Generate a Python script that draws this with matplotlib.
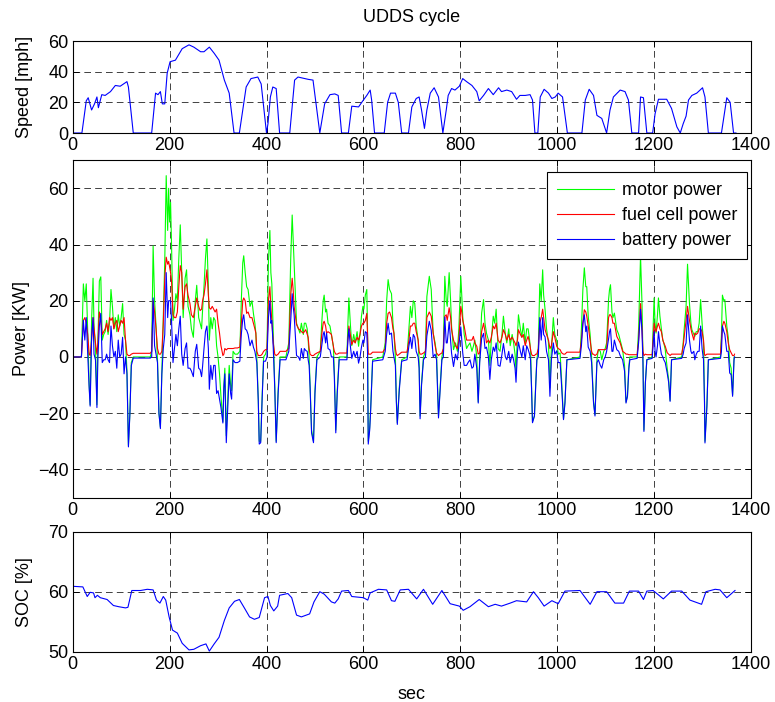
import numpy as np
import matplotlib
matplotlib.use("Agg")
import matplotlib.pyplot as plt

plt.rcParams['font.family'] = ['Liberation Sans', 'DejaVu Sans']
plt.rcParams['font.size'] = 13

# ---- speed trace (mph) ----
t_spd = [0, 19, 28, 32, 39, 45, 50, 53, 60, 67, 78, 88, 98, 105, 112, 115, 125,
         163, 171, 176, 181, 185, 190, 195, 201, 212, 226, 240, 250, 264, 271, 282,
         292, 302, 313, 323, 333, 344, 358, 368, 382, 389, 400, 403, 408, 413, 420,
         427, 448, 458, 465, 486, 496, 510, 520, 531, 541, 548, 555, 569, 576, 590,
         600, 607, 614, 617, 623, 643, 650, 656, 666, 672, 679, 693, 700, 709, 715,
         720, 726, 731, 738, 746, 755, 764, 771, 775, 782, 789, 798, 805, 813, 824,
         834, 839, 848, 858, 868, 879, 885, 896, 906, 916, 923, 934, 944, 949, 954,
         960, 965, 973, 982, 989, 996, 1002, 1011, 1021, 1051, 1058, 1066, 1075,
         1082, 1092, 1102, 1109, 1116, 1130, 1140, 1147, 1154, 1168, 1172, 1178,
         1185, 1197, 1202, 1209, 1226, 1236, 1247, 1254, 1260, 1266, 1271, 1278,
         1288, 1300, 1305, 1312, 1339, 1350, 1357, 1364, 1369]
speed = [0, 0, 21, 23, 15, 19, 23.5, 16.5, 25, 24.5, 27, 31, 30.5, 32, 33.5, 30, 0,
         0, 26, 25, 27, 19, 19, 39, 46.5, 47.5, 55, 57.5, 56, 53, 53, 56,
         52, 47.5, 34.5, 26, 0, 0, 30, 35.5, 36.5, 32, 0, 6, 23.5, 30, 29,
         0, 0, 34.5, 36.5, 35, 34.5, 0, 19, 25, 25.5, 24.5, 0, 0, 17.5, 17,
         21.5, 24.5, 28, 21.5, 0, 0, 20, 26, 26, 20, 0, 0, 17, 22.5, 23.5,
         15, 3, 15, 26, 29.5, 23.5, 0, 15, 24.5, 29, 28, 30.5, 35.5, 33.5, 31,
         27, 21, 24.5, 29, 25, 29.5, 27, 28, 27, 22, 24.5, 24.5, 25, 21.5, 0,
         0, 23.5, 28.5, 26, 22.5, 23.5, 26, 23.5, 0, 0, 21.5, 28.5, 24.5,
         11.5, 9.5, 0, 15, 23.5, 28, 27, 21.5, 0, 0, 23.5, 23,
         0, 0, 12.5, 22, 22, 16, 4, 0, 6, 11, 21.5, 24.5,
         26, 29.5, 23.5, 0, 0, 23, 20, 0, 0]

# ---- power (kW) ----
t_pwr = [0, 18, 22, 25, 28, 31, 34, 36, 39, 42,
         44, 47, 50, 52, 55, 58, 61, 64, 67, 70,
         73, 76, 79, 82, 85, 88, 91, 94, 97, 100,
         103, 106, 109, 112, 115, 118, 121, 125, 160, 163,
         166, 169, 172, 175, 178, 181, 184, 187, 190, 193,
         196, 198, 200, 202, 204, 207, 210, 213, 216, 219,
         222, 225, 228, 232, 235, 238, 242, 245, 249, 253,
         256, 260, 263, 266, 268, 271, 274, 277, 280, 282,
         285, 288, 291, 294, 297, 300, 303, 306, 310, 312,
         314, 317, 320, 323, 326, 328, 331, 335, 340, 345,
         348, 351, 353, 356, 359, 362, 366, 370, 373, 376,
         378, 380, 383, 385, 388, 391, 394, 398, 401, 404,
         407, 409, 411, 414, 417, 420, 424, 428, 440, 446,
         450, 453, 455, 457, 460, 462, 466, 469, 472, 476,
         478, 481, 484, 486, 488, 490, 493, 497, 500, 504,
         511, 514, 517, 519, 522, 524, 527, 531, 534, 538,
         540, 543, 546, 550, 566, 568, 570, 573, 576, 580,
         583, 587, 590, 593, 596, 599, 601, 604, 607, 608.5,
         610, 613, 615, 619, 640, 645, 648, 651, 654, 658,
         661, 663, 666, 668, 670, 674, 679, 690, 694, 697,
         700, 703, 706, 709, 713, 715, 717, 720, 724, 728,
         731, 736, 740, 744, 748, 751, 753, 755, 758, 762,
         765, 768, 771, 773, 777, 780, 782, 786, 790, 794,
         797, 801, 803, 805, 808, 811, 813, 816, 820, 824,
         827, 830, 834, 837, 840, 844, 848, 851, 854, 858,
         861, 864, 868, 871, 874, 878, 882, 886, 889, 893,
         896, 900, 903, 907, 910, 913, 915, 918, 920, 924,
         927, 930, 934, 937, 940, 943, 945, 947, 949, 953,
         956, 958, 961, 964, 967, 970, 972, 975, 978, 982,
         985, 988, 992, 995, 999, 1002, 1006, 1009, 1013, 1016,
         1020, 1047, 1050, 1053, 1056, 1059, 1061, 1064, 1068, 1071,
         1073, 1075, 1078, 1082, 1085, 1089, 1092, 1096, 1099, 1102,
         1106, 1108, 1110, 1113, 1115, 1118, 1123, 1127, 1130, 1135,
         1139, 1142, 1145, 1148, 1150, 1165, 1168, 1172, 1175, 1177,
         1179, 1182, 1185, 1196, 1200, 1202, 1204, 1207, 1209, 1212,
         1215, 1218, 1220, 1223, 1227, 1230, 1233, 1236, 1257, 1260,
         1262, 1266, 1269, 1273, 1276, 1278, 1282, 1284, 1287, 1290,
         1293, 1296, 1299, 1302, 1304, 1305, 1309, 1312, 1337, 1339,
         1341, 1344, 1346, 1350, 1353, 1356, 1359, 1362, 1365, 1366]
p_motor = [0, 0, 26, 20, 26, 9, -10, -17, 13, 28,
           11, 4, -17, 5, 27, 28.5, 6, 8, 9, 13,
           8, 12, 24, 18, 10, 14, 9, 15, 11, 14,
           19, 8, 6, -5, -31.5, -20, -2, 0, 0, 2,
           39.5, 20, 11, -1, -20, -25, -5, 15, 34, 64.5,
           45, 60, 48, 55, 40, 13, 17, 22.5, 20, 35,
           47, 31, 14, 28, 31, 18, 15, 10, 7, 20,
           25.5, 14, 12, 10, 16.5, 25, 35, 42, 25, 6,
           14, 10, 14, 13, 4, 0, -6, -14, -23, -10,
           -4, -28, -15, -3, -10, -12, 2, 1, 1, 2,
           20, 33.5, 36, 30, 25, 24, 18, 20, 15.5, 12,
           8.5, 0, -15, -30, -30, -14, 0, 1, 3, 34,
           45, 30, 26, 8, -10, -30, -12, 0, 0, 5,
           35, 50.5, 42, 33, 20, 12, 10, 8.5, 12, 8,
           12, 12, 10, 6, 0, -10, -26, -30, -12, 0,
           2, 12, 20, 22, 16, 17, 12, 11, 8, 3.8,
           -5, -26, -12, 0, 0, 12, 21, 12, 4, 8,
           5, 9, 3.8, 8, 14.5, 18, 17, 22, 24, 10,
           -30, -25, -18, -1, 0, 5, 20, 27.5, 24, 22.5,
           12, 8.5, 0, -15, -23.5, -11, -1, 0, 10, 18,
           14, 20, 19, 11, 6, -2, -21, -9.3, 0, 2,
           21.5, 28.7, 24, 8.5, 5, 1, -10, -21, -12, 0,
           3, 28.7, 20, 18, 30, 20, 11, 2.6, 5, 2,
           10, 28.7, 22, 14.5, 8, 5, 3, 4, 5, 2,
           3.8, 6, 0, -16, -1, 15.6, 20.4, 12, 8.5, 6,
           -3, 6, 14.5, 12, 17, 3, 2, 8, 14.5, 8,
           5, 10, 4, 8, 5, 1, -5, 8, 15, 10,
           7, 12, 5, 10, 10, 6, 2.6, -10, -23, -21,
           -8, -1, 3, 26, 20, 31, 22, 16.8, 10, 5,
           -11, 3, 14, 8, 6, 1, 1.4, -8, -22, -16,
           -1, 0, 10, 24, 31.7, 25, 25, 14.5, 8, 0,
           -8, -16, -20.5, -1, 2.6, 2, -1, 2, 3, 5,
           20.4, 24, 25.7, 16, 14, 15.6, 9.7, 8, 6, 2.6,
           -3, -16, -14, -3, 0, 0, 10, 36, 19, 0,
           -26, -9, -1, 0, 21, 12, 8.5, 15, 21, 14.5,
           10, 6, 5, 2.6, -4, -8, -15.5, -1, 0, 5,
           9.7, 18, 33, 19, 12, 9.7, 8, 7.3, 9, 9,
           12, 20.4, 12, 5, -15, -30, -17, -1, 0, 8,
           22, 20, 20.4, 11, 7, -2, -4, -13.5, 0, 0]
p_fuel = [0, 0, 13, 14, 12, 8, 1, 0.5, 6, 14,
          10, 5, 1, 5, 16, 13, 8, 9, 10, 12,
          9, 14, 13, 14, 10, 12, 13, 9, 11, 13,
          12, 14, 6, 1, 0.5, 0.5, 1, 1.3, 1.3, 2,
          20, 16, 10, 3, 1, 1, 2, 12, 28, 35.5,
          33, 34, 32, 30, 27, 15, 14, 14, 16, 25,
          32.5, 30, 17, 25, 26, 22, 19, 15, 14, 18,
          21, 18, 16.5, 17, 20, 22, 26, 31, 22, 17.5,
          17, 18, 17, 16, 17, 12, 8.5, 4, 0.5, 1,
          3, 2.5, 3, 3, 3, 3, 3, 3.2, 3.2, 3.5,
          12, 20, 21, 20, 15.5, 16, 14, 14, 12, 10,
          8.5, 2, 0.5, 0.5, 0.5, 1, 2, 2.6, 2.6, 20,
          25, 18, 13, 5, 1, 0.5, 1, 2, 2, 3,
          22, 28, 24, 18, 14, 11.5, 10, 9.7, 9, 8.5,
          9, 9.7, 8, 7, 3, 1, 0.5, 0.5, 1, 1.4,
          2, 8, 12, 12.7, 11, 8.5, 9, 8.5, 8, 3.8,
          2, 1, 1, 1.4, 1.4, 6, 11, 8, 4.4, 6,
          5, 7, 6, 8, 11, 12, 12, 13, 15.5, 8,
          1, 1, 1, 1.7, 1.7, 3, 12, 15.5, 16, 14,
          10, 8.5, 3, 1, 0.5, 1, 1.7, 1.7, 6, 11,
          11, 12, 12, 9, 6, 2, 1, 1, 1.4, 2,
          14, 16, 14.5, 8.5, 4, 1.4, 1, 0.5, 1, 1.4,
          3, 14.5, 15, 13, 17.5, 14, 9.7, 6, 4, 3,
          6, 18, 16, 13, 11, 8, 6, 6, 6, 6,
          7.3, 5, 3.8, 1, 1.5, 9, 12, 9, 5, 6,
          5, 7, 11, 10, 12, 6, 5, 7, 9.7, 8,
          6, 8, 6, 7, 6, 5, 4, 6, 9.7, 8,
          7, 8, 4, 6, 7.3, 5, 2.6, 1, 0.5, 0.5,
          1, 1, 3, 12, 14, 17, 14, 9.7, 8, 6,
          3, 4, 9, 7, 3.8, 3, 2.6, 1.5, 1, 1,
          1.7, 1.7, 6, 12, 16.8, 16, 14.5, 11, 6, 2,
          1, 1, 0.5, 1, 2.6, 2.6, 2.6, 2.6, 2.6, 3,
          14, 15, 15, 14, 12, 12, 7.3, 6, 5, 2,
          1.5, 1, 1, 0.8, 0.8, 0.8, 6, 19, 10, 2,
          0.5, 1, 0.8, 0.8, 12, 10, 9, 11, 12, 10,
          9, 6, 5, 3.8, 1.5, 1, 0.5, 1, 1, 4,
          7, 13, 18, 13, 10, 8.5, 6, 8.5, 8, 8.5,
          10, 10, 9, 6, 1, 0.5, 1, 1, 1, 6,
          11, 12.7, 12, 9, 5, 2.6, 1.5, 0.5, 0.5, 1]
p_batt = [0, 0, 13, 6, 14, 1, -11, -17.5, 7, 14,
          1, -1, -18, 0, 11, 15.5, -2, -1, -1, 1,
          -1, -2, 11, 4, 0, 2, -4, 6, 0, 1,
          7, -6, 0, -6, -32, -20.5, -3, -0.4, -0.4, 0,
          21, 4, 1, -2, -20, -25.5, -6, 3, 8, 30,
          14, 20, 20, 20, 13, -2, 3, 8, 4, 10,
          14.5, 1, -3, 3, 5, -4, -4, -5, -7, 2,
          4.5, -4, -4.5, -7, -3.5, 3, 9, 11, 3, -11.5,
          -3, -8, -3, -3, -13, -12, -15, -18, -23.5, -11,
          -6, -30.5, -18, -6, -13, -15, -1, -2, -2, -1.5,
          8, 13.5, 15, 10, 9.5, 8, 4, 6, 3.5, 2,
          0, -2, -15.5, -31, -30.5, -15, -1.5, -1.5, 0, 14,
          20, 12, 13, 3, -11, -30.5, -13, -1, -1, 2,
          13, 22.5, 18, 15, 6, 0.5, 0, -1.2, 3, -0.5,
          3, 2.3, 2, -1, -3, -11, -27, -30.5, -13, -1,
          0, 4, 8, 9, 5, 8.5, 3, 2.5, 0, 0,
          -7, -27, -13, -1, -1, 6, 10, 4, -0.5, 2,
          0, 2, -2.2, 0, 3.5, 6, 5, 9, 8.5, 2,
          -31, -26, -19, -1.5, -1, 2, 8, 12, 8, 8.5,
          2, 0, -3, -16, -24, -12, -1.5, -1, 4, 7,
          3, 8, 7, 2, 0, -4, -22, -10, -1, 0,
          7.5, 12.7, 9.5, 0, 1, -1, -11, -21.7, -13, -1,
          0, 14.2, 5, 5, 12.5, 6, 1.3, -3.4, 1, -1,
          4, 10.7, 6, 1.5, -3, -3, -3, -2, -1, -4,
          -3.5, 1, -4, -16.4, -2, 6.6, 8.4, 3, 3.5, 0,
          -8, -1, 3.5, 2, 5, -3, -3.3, 1, 4.8, 0,
          -1, 2, -2, 1, -1, -4, -9, 2, 5.3, 2,
          0, 4, -1, 4, 2.7, 1, -1, -11, -23.4, -21,
          -9, -1, 0, 14, 6, 14, 8, 7.1, 2, -1,
          -14, -1, 5, 1, 2.2, -2, -2, -10, -22.3, -16.4,
          -1, -0.5, 4, 12, 15, 9, 11, 3.5, 2, -2,
          -9, -16.4, -21, -2, -1, -3, -4, -1, 0, 2,
          6.4, 9, 10, 2, 2, 6, 2.6, 2, 0.5, -1,
          -5, -16.4, -14, -4, -1, -0.5, 5, 17, 9, -2,
          -26.5, -9.3, -1, -0.5, 9, 2, 0, 4, 9, 4.5,
          1, 0, -1, -2, -5.7, -9, -15.8, -1, -0.5, 1,
          3, 5, 15, 6, 2, 1.2, 2, -1, 1, 2,
          2, 11, 3, -1, -16, -30.6, -17.6, -1, -0.5, 2,
          11, 9, 8, 2, 2, -5.7, -6.3, -14, -1, 0]

# ---- battery state of charge (%) ----
t_soc = [0, 21, 30, 36, 43, 46, 51, 57, 71, 84, 95, 109, 114, 122, 140, 154, 166,
         173, 180, 187, 192, 199, 206, 216, 226, 240, 250, 264, 275, 282, 292, 302,
         313, 323, 334, 344, 355, 365, 375, 385, 396, 403, 408, 415, 423, 427, 444,
         452, 462, 472, 489, 498, 510, 519, 534, 541, 548, 555, 569, 576, 600, 609,
         614, 631, 648, 658, 665, 676, 693, 710, 724, 743, 762, 779, 798, 806, 820,
         839, 858, 872, 885, 903, 916, 937, 951, 961, 973, 989, 1002, 1016, 1047,
         1068, 1082, 1102, 1119, 1137, 1149, 1168, 1178, 1185, 1198, 1219, 1236,
         1257, 1274, 1298, 1307, 1326, 1336, 1350, 1367]
soc = [60.9, 60.8, 59.2, 59.9, 59.8, 59.0, 59.4, 59.0, 58.7, 57.7, 57.5, 57.3, 57.4,
       60.2, 60.2, 60.4, 60.3, 58.6, 58.1, 59.2, 58.6, 55.8, 53.6, 53.1, 51.4, 50.3,
       50.4, 51.0, 51.3, 50.1, 51.3, 52.4, 55.2, 57.3, 58.4, 58.7, 57.2, 55.8, 55.4,
       55.7, 59.0, 59.2, 57.7, 56.8, 57.6, 59.4, 59.7, 59.0, 56.1, 55.8, 56.3, 58.3,
       60.0, 59.6, 58.3, 58.1, 58.8, 60.1, 60.2, 59.2, 59.0, 58.6, 59.8, 60.4, 60.3,
       58.5, 58.4, 60.3, 60.4, 58.8, 60.4, 57.9, 60.2, 58.0, 57.6, 56.9, 57.5, 58.7,
       57.5, 57.9, 57.6, 58.1, 58.5, 58.3, 60.0, 59.0, 57.6, 58.5, 58.0, 60.1, 60.2,
       57.9, 60.0, 60.0, 58.1, 58.1, 60.1, 60.1, 58.7, 60.1, 60.2, 58.8, 60.1, 60.1,
       58.6, 57.9, 60.0, 60.4, 60.3, 59.0, 60.2]

W, H = 775, 702
fig = plt.figure(figsize=(W / 100, H / 100), dpi=100)


def px_axes(x0, y0, x1, y1):
    # axes from pixel box (top-left origin)
    return fig.add_axes([x0 / W, 1 - y1 / H, (x1 - x0) / W, (y1 - y0) / H])


def style(ax):
    ax.set_xlim(0, 1400)
    ax.set_xticks(np.arange(0, 1401, 200))
    ax.grid(True, color='#222222', lw=0.6, ls=(0, (8, 5)))
    ax.tick_params(direction='in', top=True, right=True, length=4, width=0.7,
                   labelsize=13, pad=3)
    for s in ax.spines.values():
        s.set_linewidth(0.8)


ax1 = px_axes(72.7, 41, 751, 133)
ax1.plot(t_spd, speed, color='#0000ff', lw=0.8)
ax1.set_ylim(0, 60)
ax1.set_yticks([0, 20, 40, 60])
style(ax1)
ax1.set_ylabel('Speed [mph]')
ax1.yaxis.set_label_coords((33 - 72.7) / 678.3, 0.5)

ax2 = px_axes(72.7, 160.2, 751, 497.5)
ax2.plot(t_pwr, p_motor, color='#00ff00', lw=0.8, label='motor power')
ax2.plot(t_pwr, p_fuel, color='#ff0000', lw=0.8, label='fuel cell power')
ax2.plot(t_pwr, p_batt, color='#0000ff', lw=0.8, label='battery power')
ax2.set_ylim(-50, 70)
ax2.set_yticks([-40, -20, 0, 20, 40, 60])
style(ax2)
ax2.set_ylabel('Power [KW]')
ax2.yaxis.set_label_coords((30 - 72.7) / 678.3, 0.5)
leg = ax2.legend(loc='upper right', bbox_to_anchor=(0.994, 0.965), borderaxespad=0,
                 fontsize=13, handlelength=3.2, handletextpad=0.4, labelspacing=0.45,
                 borderpad=0.55, fancybox=False, framealpha=1, edgecolor='black')
leg.get_frame().set_linewidth(0.8)

ax3 = px_axes(72.7, 531.7, 751, 651.7)
ax3.plot(t_soc, soc, color='#0000ff', lw=0.8)
ax3.set_ylim(50, 70)
ax3.set_yticks([50, 60, 70])
style(ax3)
ax3.set_ylabel('SOC [%]')
ax3.yaxis.set_label_coords((33 - 72.7) / 678.3, 0.5)

cx = (72.7 + 751) / 2 / W
fig.text(cx, 1 - 17 / H, 'UDDS cycle', ha='center', va='center', fontsize=13)
fig.text(cx, 1 - 699 / H, 'sec', ha='center', va='baseline', fontsize=13)

fig.savefig('out.png', dpi=100)
